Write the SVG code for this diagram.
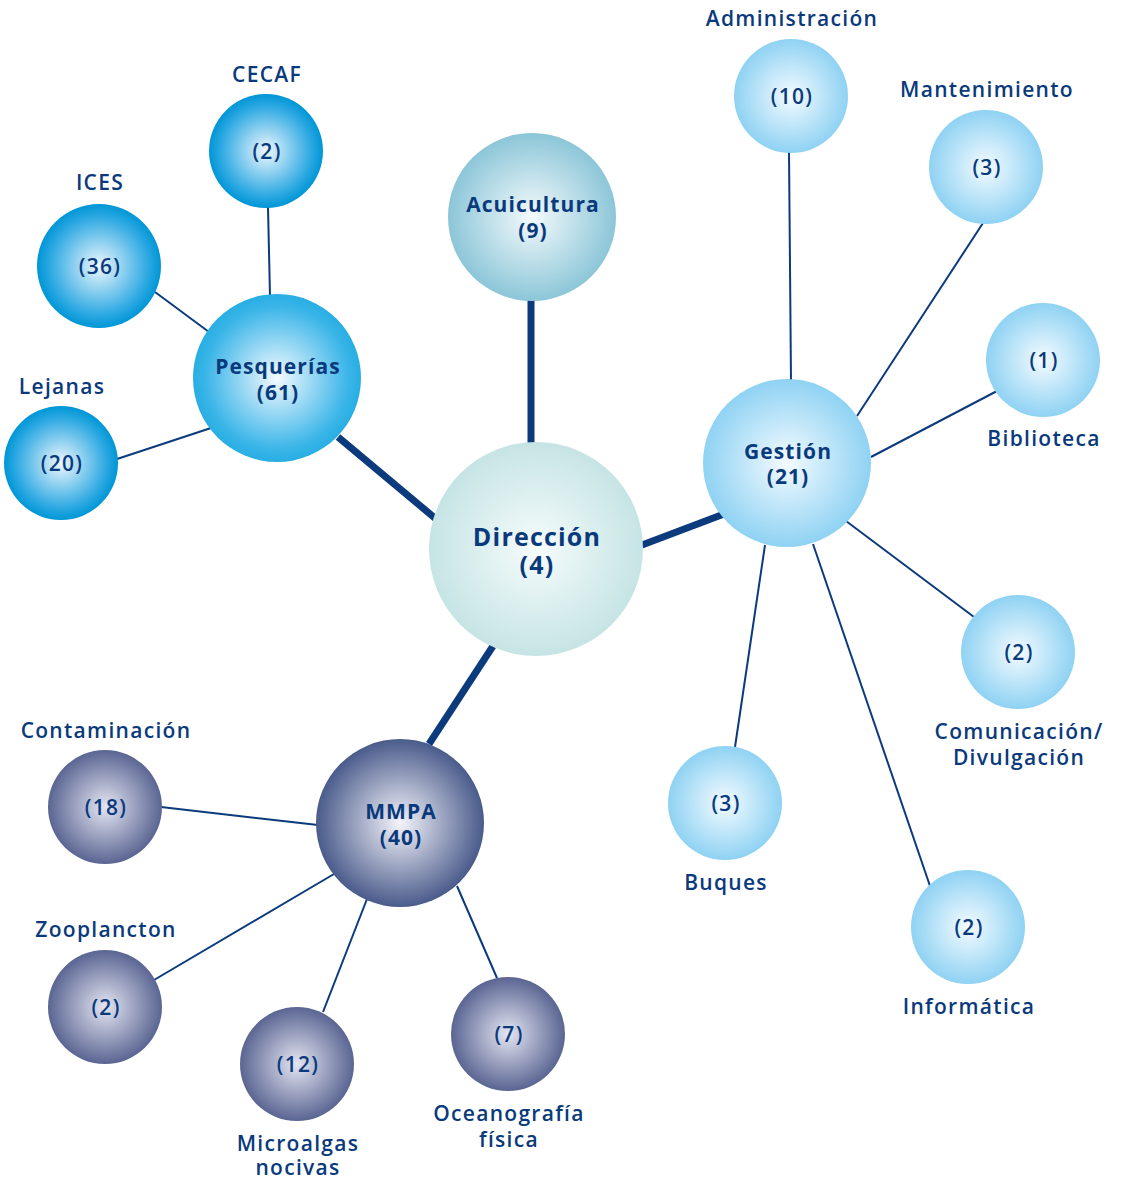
<svg xmlns="http://www.w3.org/2000/svg" width="1121" height="1180" viewBox="0 0 1121 1180">
<style>
.t{font-family:"Open Sans","Liberation Sans",sans-serif;fill:#0a3a7c;text-anchor:middle;font-weight:600;font-size:21px;letter-spacing:1.3px}
.h{font-family:"Open Sans","Liberation Sans",sans-serif;fill:#0a3a7c;text-anchor:middle;font-weight:700;font-size:21px;letter-spacing:1.1px}
.d{font-size:25px;letter-spacing:1.2px}
.thick{stroke:#0b3a7d;stroke-width:7;fill:none}
.thin{stroke:#0b3a7d;stroke-width:2;fill:none}
</style>
<defs>
<radialGradient id="gDir" cx="50%" cy="50%" r="50%"><stop offset="0" stop-color="#f6fcfc"/><stop offset="1" stop-color="#c6e4e4"/></radialGradient>
<radialGradient id="gAcu" cx="50%" cy="50%" r="50%"><stop offset="0" stop-color="#f4fafc"/><stop offset="1" stop-color="#8cc6d8"/></radialGradient>
<radialGradient id="gPes" cx="50%" cy="50%" r="50%"><stop offset="0" stop-color="#f4faff"/><stop offset="0.85" stop-color="#3ab5e8"/><stop offset="1" stop-color="#28aee3"/></radialGradient>
<radialGradient id="gPesL" cx="50%" cy="50%" r="50%"><stop offset="0" stop-color="#eef7fd"/><stop offset="0.8" stop-color="#2ba8e2"/><stop offset="1" stop-color="#0096d6"/></radialGradient>
<radialGradient id="gGes" cx="50%" cy="50%" r="50%"><stop offset="0" stop-color="#f4fbff"/><stop offset="1" stop-color="#8fd2f3"/></radialGradient>
<radialGradient id="gMm" cx="50%" cy="50%" r="50%"><stop offset="0" stop-color="#f4f4fa"/><stop offset="1" stop-color="#4a5b8b"/></radialGradient>
<radialGradient id="gMmL" cx="50%" cy="50%" r="50%"><stop offset="0" stop-color="#e4e5f2"/><stop offset="1" stop-color="#5a6592"/></radialGradient>
</defs>
<g id="connectors">
<line class="thick" x1="531" y1="300" x2="531" y2="445"/>
<line class="thick" x1="338" y1="437" x2="436" y2="519"/>
<line class="thick" x1="642" y1="545" x2="724" y2="514"/>
<line class="thick" x1="429" y1="744" x2="493" y2="646"/>
<line class="thin" x1="268" y1="207" x2="270" y2="296"/>
<line class="thin" x1="155" y1="292" x2="209" y2="332"/>
<line class="thin" x1="117" y1="459" x2="211" y2="428"/>
<line class="thin" x1="789" y1="152" x2="791" y2="381"/>
<line class="thin" x1="983" y1="223" x2="857" y2="416"/>
<line class="thin" x1="997" y1="391" x2="871" y2="457"/>
<line class="thin" x1="974" y1="617" x2="846" y2="521"/>
<line class="thin" x1="735" y1="747" x2="765" y2="545"/>
<line class="thin" x1="930" y1="886" x2="813" y2="544"/>
<line class="thin" x1="161" y1="807" x2="318" y2="825"/>
<line class="thin" x1="154" y1="980" x2="334" y2="874"/>
<line class="thin" x1="323" y1="1012" x2="367" y2="899"/>
<line class="thin" x1="497" y1="978" x2="457" y2="886"/>
</g>
<g id="direccion"><circle cx="536" cy="549" r="107" fill="url(#gDir)"/><text class="h d" x="537" y="546">Dirección</text><text class="h d" x="537" y="574">(4)</text></g>
<g id="acuicultura"><circle cx="532" cy="217" r="84" fill="url(#gAcu)"/><text class="h" x="533" y="212">Acuicultura</text><text class="h" x="533" y="238">(9)</text></g>
<g id="pesquerias"><circle cx="277" cy="378" r="84" fill="url(#gPes)"/><text class="h" x="278" y="374">Pesquerías</text><text class="h" x="278" y="400">(61)</text></g>
<g id="gestion"><circle cx="787" cy="463" r="84" fill="url(#gGes)"/><text class="h" x="788" y="459">Gestión</text><text class="h" x="788" y="484">(21)</text></g>
<g id="mmpa"><circle cx="400" cy="823" r="84" fill="url(#gMm)"/><text class="h" x="401" y="819">MMPA</text><text class="h" x="401" y="845">(40)</text></g>
<g id="cecaf"><circle cx="266" cy="151" r="57" fill="url(#gPesL)"/><text class="t" x="267" y="159">(2)</text><text class="t" x="267" y="82">CECAF</text></g>
<g id="ices"><circle cx="99" cy="266" r="62" fill="url(#gPesL)"/><text class="t" x="100" y="274">(36)</text><text class="t" x="100" y="190">ICES</text></g>
<g id="lejanas"><circle cx="61" cy="463" r="57" fill="url(#gPesL)"/><text class="t" x="62" y="471">(20)</text><text class="t" x="62" y="394">Lejanas</text></g>
<g id="administracion"><circle cx="791" cy="96" r="57" fill="url(#gGes)"/><text class="t" x="792" y="104">(10)</text><text class="t" x="792" y="26">Administración</text></g>
<g id="mantenimiento"><circle cx="986" cy="167" r="57" fill="url(#gGes)"/><text class="t" x="987" y="175">(3)</text><text class="t" x="987" y="97">Mantenimiento</text></g>
<g id="biblioteca"><circle cx="1043" cy="360" r="57" fill="url(#gGes)"/><text class="t" x="1044" y="368">(1)</text><text class="t" x="1044" y="446">Biblioteca</text></g>
<g id="comunicacion"><circle cx="1018" cy="652" r="57" fill="url(#gGes)"/><text class="t" x="1019" y="660">(2)</text><text class="t" x="1019" y="739">Comunicación/</text><text class="t" x="1019" y="765">Divulgación</text></g>
<g id="buques"><circle cx="725" cy="803" r="57" fill="url(#gGes)"/><text class="t" x="726" y="811">(3)</text><text class="t" x="726" y="890">Buques</text></g>
<g id="informatica"><circle cx="968" cy="927" r="57" fill="url(#gGes)"/><text class="t" x="969" y="935">(2)</text><text class="t" x="969" y="1014">Informática</text></g>
<g id="contaminacion"><circle cx="105" cy="807" r="57" fill="url(#gMmL)"/><text class="t" x="106" y="815">(18)</text><text class="t" x="106" y="738">Contaminación</text></g>
<g id="zooplancton"><circle cx="105" cy="1007" r="57" fill="url(#gMmL)"/><text class="t" x="106" y="1015">(2)</text><text class="t" x="106" y="937">Zooplancton</text></g>
<g id="microalgas"><circle cx="297" cy="1064" r="57" fill="url(#gMmL)"/><text class="t" x="298" y="1151">Microalgas</text><text class="t" x="298" y="1175">nocivas</text><text class="t" x="298" y="1072">(12)</text></g>
<g id="oceanografia"><circle cx="508" cy="1034" r="57" fill="url(#gMmL)"/><text class="t" x="509" y="1042">(7)</text><text class="t" x="509" y="1121">Oceanografía</text><text class="t" x="509" y="1147">física</text></g>
</svg>
